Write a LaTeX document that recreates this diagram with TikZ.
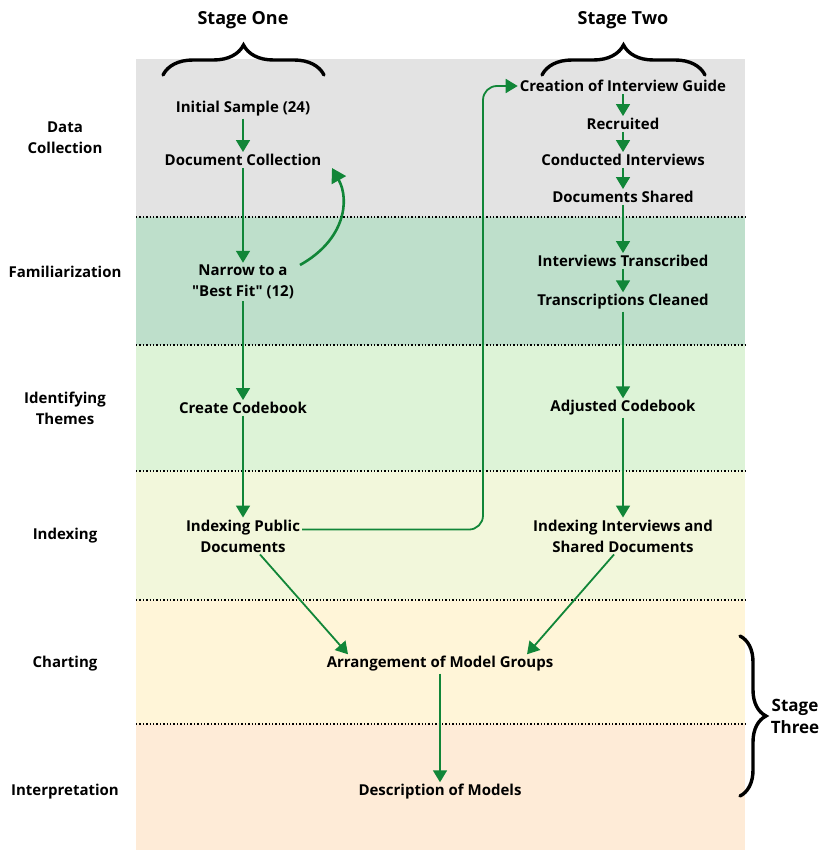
\documentclass[tikz,border=0pt]{standalone}
\usepackage{fontspec}
\setmainfont{Open Sans}[Ligatures=TeXOff]
\usetikzlibrary{arrows.meta,decorations.pathreplacing,positioning}
\definecolor{flowgreen}{RGB}{17,134,56}
\definecolor{bandgray}{RGB}{227,227,227}
\definecolor{bandfam}{RGB}{190,223,203}
\definecolor{bandtheme}{RGB}{221,243,215}
\definecolor{bandindex}{RGB}{242,247,219}
\definecolor{bandchart}{RGB}{255,245,216}
\definecolor{bandinterp}{RGB}{254,235,215}

\begin{document}
\begin{tikzpicture}[
    x=1pt, y=-1pt,
    every node/.style={align=center, inner sep=2pt, font=\fontsize{15}{21}\selectfont\bfseries},
    stagetitle/.style={font=\fontsize{18}{23}\selectfont\bfseries},
    flow/.style={draw=flowgreen, line width=1.8pt, -{Triangle[width=14pt,length=12pt]}},
    bandline/.style={dotted, line width=1.4pt},
    stagebrace/.style={decorate, decoration={brace, amplitude=30pt}, line width=3.4pt, line cap=round}
]
\useasboundingbox (0,0) rectangle (822,850);

% bands
\fill[bandgray]   (136,59)  rectangle (745,217);
\fill[bandfam]    (136,217) rectangle (745,345);
\fill[bandtheme]  (136,345) rectangle (745,471);
\fill[bandindex]  (136,471) rectangle (745,600);
\fill[bandchart]  (136,600) rectangle (745,724);
\fill[bandinterp] (136,724) rectangle (745,850);
\foreach \y in {217,345,471,600,724}
    \draw[bandline] (136,\y) -- (745,\y);

% phase labels
\node (lbldata)   at (65,138) {Data\\Collection};
\node (lblfam)    at (65,272) {Familiarization};
\node (lbltheme)  at (65,408) {Identifying\\Themes};
\node (lblindex)  at (65,536) {Indexing};
\node (lblchart)  at (65,664) {Charting};
\node (lblinterp) at (65,792) {Interpretation};

% stage titles and braces
\node[stagetitle] (stageone) at (243,20) {Stage One};
\node[stagetitle] (stagetwo) at (623,20) {Stage Two};
\node[stagetitle, font=\fontsize{17}{22}\selectfont\bfseries] (stagethree) at (795,716) {Stage\\Three};
\draw[stagebrace] (163,75) -- (324,75);
\draw[stagebrace] (542,75) -- (705,75);
\draw[stagebrace, decoration={amplitude=26pt}] (740,636) -- (740,796);

% stage one
\node (initial)  at (243,109) {Initial Sample (24)};
\node (doccol)   at (243,160) {Document Collection};
\node (narrow)   at (243,282) {Narrow to a\\"Best Fit" (12)};
\node (codebook) at (243,408) {Create Codebook};
\node (indexpub) at (243,536) {Indexing Public\\Documents};

% stage two
\node (guide)      at (623,86)  {Creation of Interview Guide};
\node (recruited)  at (623,124) {Recruited};
\node (conducted)  at (623,160) {Conducted Interviews};
\node (shared)     at (623,197) {Documents Shared};
\node (transcr)    at (623,261) {Interviews Transcribed};
\node (cleaned)    at (623,302) {Transcriptions Cleaned};
\node (adjusted)   at (623,408) {Adjusted Codebook};
\node (indexint)   at (623,536) {Indexing Interviews and\\Shared Documents};

% stage three
\node (arrange)  at (440,664) {Arrangement of Model Groups};
\node (describe) at (440,792) {Description of Models};

% connectors
\draw[flow] (initial) -- (doccol);
\draw[flow] (doccol) -- (narrow);
\draw[flow] (narrow) -- (codebook);
\draw[flow] (codebook) -- (indexpub);
\coordinate (loopstart) at (300,265);
\coordinate (loopend) at (332,168);
\draw[flow, line width=2.6pt, -{Triangle[width=16pt,length=14pt]}]
    (loopstart) .. controls (345,240) and (350,200) .. (loopend);

\draw[flow] (guide) -- (recruited);
\draw[flow] (recruited) -- (conducted);
\draw[flow] (conducted) -- (shared);
\draw[flow] (shared) -- (transcr);
\draw[flow] (transcr) -- (cleaned);
\draw[flow] (cleaned) -- (adjusted);
\draw[flow] (adjusted) -- (indexint);

\coordinate (bend) at (483,86);
\draw[flow, rounded corners=14pt] ([yshift=-12pt]indexpub.north east) -| (bend) -- (guide.west);

\draw[flow] ([xshift=17pt]indexpub.south) -- ([xshift=-92pt]arrange.north);
\draw[flow] ([xshift=-9pt]indexint.south) -- ([xshift=87pt]arrange.north);
\draw[flow] (arrange) -- (describe);
\end{tikzpicture}
\end{document}
